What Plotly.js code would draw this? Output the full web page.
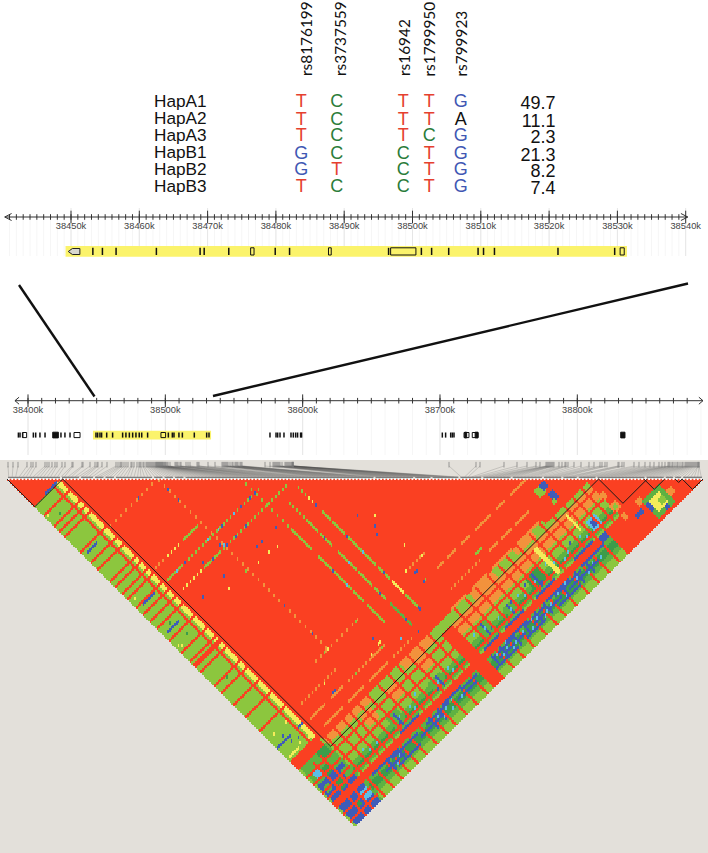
<!DOCTYPE html>
<html><head><meta charset="utf-8">
<script src="https://cdn.plot.ly/plotly-3.0.1.min.js"></script>
<style>html,body{margin:0;padding:0;background:#fff}</style></head>
<body><div id="chart" style="width:708px;height:853px"></div>
<script>
// ---------- haplotype table ----------
const snpNames=['rs8176199','rs3737559','rs16942','rs1799950','rs799923'];
const snpColumnX=[301.3,336.7,403.3,429.3,460.7];
const snpLabelX=[306,340,404,428.5,460];
const haplotypes=['HapA1','HapA2','HapA3','HapB1','HapB2','HapB3'];
const haplotypeAlleles=['TCTTG','TCTTA','TCTCG','GCCTG','GTCTG','TCCTG'];
const haplotypeFreq=['49.7','11.1','2.3','21.3','8.2','7.4'];
const rowY=[102.8,120.1,136.8,154.1,170.8,187.5];
const freqY=[104.8,122.2,138.8,156.5,172.2,189.8];
const alleleColors={T:'#e5402f',C:'#2b7c3a',G:'#3f57b3',A:'#111111'};

// ---------- genome tracks (kb) ----------
const topTicks=[38450,38460,38470,38480,38490,38500,38510,38520,38530,38540];
const lowTicks=[38400,38500,38600,38700,38800];
const topGene=[38449.2,38531.4];
const topExons=[38453.2,38454.6,38456.6,38462.5,38468.9,38469.5,38473.1,38479.9,38482.0,38496.5,38501.3,38502.8,38505.3,38509.6,38510.4,38512.0,38521.3,38529.6];
const topBoxes=[[38476.3,38476.8],[38487.7,38488.1],[38496.8,38500.5],[38530.4,38531.0]];
const topNose=[38449.6,38451.3];
const lowGene=[38447.3,38533.3];
const lowExons=[38393,38394.2,38396.1,38403.9,38405.6,38408.7,38412.4,38424,38426.9,38430.6,38449.5,38450.7,38452.4,38453.6,38457.3,38461.6,38468.9,38471.3,38473.8,38476.2,38478.6,38481,38482.8,38487.1,38502.2,38505.1,38506.3,38509.9,38512.4,38521.1,38530.1,38531.8,38576.2,38580.6,38581.8,38583.5,38586.4,38591.5,38593.2,38594.9,38596.3,38598.5,38599.2,38701.7,38704.1,38707.8,38709,38710.2];
const lowBoxes=[[38396.1,38399],[38433.5,38437.9],[38496.8,38500.2],[38717.5,38721.1],[38723.5,38727.7]];
const lowSolid=[[38418,38422.1],[38718,38719.4],[38725.6,38727.7],[38831.6,38834.7]];

// ---------- LD plot ----------
const snpCount=200;
const ldColors=['#fa4022','#f2923c','#f4ec5a','#8cc63e','#5fb142','#3c9c4a','#3f5cb8','#5cbfe6'];
const RED=0,ORANGE=1,YELLOW=2,LIGHT=3,MID=4,DARK=5,BLUE=6,SKY=7;
const ldBlocks=[[0,15],[16,169],[170,183],[183,188],[192,193],[194,199]];
const topBreaks=[15.5,21,25,28,31,42,45,48,51,105.6,117,122,130,136.6,145,154,159.6,164,169.4,183.5,189,191.7,194];
const rulerPx=[8,13,18,27,31,33,36,45,47,49,52,55,57,62,65,72,
73,82,83,90,95,97,98,102,107,116,118,120,121,122,124,126,128,131,132,134,
137,139,140,141,143,144,146,147,148,149,150,151,152,153,154,155,156,156,157,157,
158,158,159,159,160,160,161,161,162,162,163,163,164,165,165,166,167,168,170,175,
176,177,178,180,181,186,188,190,197,198,199,208,215,222,223,224,225,226,227,228,
230,232,233,235,236,237,238,240,241,242,265,270,273,274,275,276,277,278,279,280,
282,285,286,287,288,289,290,291,292,292,293,293,293,293,
449,476,480,504,517,527,536,540,546,547,548,549,550,551,552,553,554,559,562,565,
566,568,574,581,589,594,600,602,605,607,618,619,622,624,634,639,645,650,654,659,
662,665,668,669,670,672,673,675,677,678,680,682,683,685,686,687,688,689,690,691,
692,693,694,695,696,697,698,698,699,699];

// rectangles [iFrom,iTo,jFrom,jTo,class]
const ldRegions=[
 [0,15,16,199,LIGHT],[13,14,16,164,YELLOW],[15,15,16,164,RED],[11,11,16,165,RED],
 [0,15,168,199,MID],[0,0,168,199,LIGHT],[1,14,178,186,BLUE],[1,14,190,199,BLUE],[3,5,172,175,SKY],[10,14,168,172,DARK],[7,10,174,177,DARK],[7,9,182,185,DARK],[12,14,180,184,MID],[11,14,192,195,SKY],[6,8,193,195,DARK],[2,4,180,182,MID],
 [16,165,166,169,LIGHT],[16,165,170,175,ORANGE],[16,60,170,176,LIGHT],[33,38,170,175,ORANGE],[48,52,170,176,ORANGE],[60,80,170,176,LIGHT],[64,70,170,175,ORANGE],[16,165,176,180,LIGHT],[16,165,181,185,MID],[16,165,183,183,DARK],[16,165,186,186,LIGHT],[16,165,190,191,MID],[16,165,192,195,MID],[16,165,192,194,DARK],[16,165,196,199,LIGHT],[16,165,196,196,MID],
 [60,75,166,169,ORANGE],[100,112,166,169,ORANGE],[125,135,166,168,ORANGE],[16,40,166,168,ORANGE],[142,165,166,167,RED],
 [40,45,178,184,MID],[62,68,180,185,MID],[92,97,178,183,MID],[105,110,180,184,MID],[120,126,178,184,DARK],
 [148,151,155,158,LIGHT],[151,153,155,157,BLUE],[151,153,160,163,BLUE],[150,151,163,164,LIGHT],
 [154,158,179,184,SKY],[155,157,180,182,BLUE],
 [165,167,175,177,ORANGE],[165,168,181,184,ORANGE],[166,167,182,183,LIGHT],[174,176,187,189,ORANGE],[165,167,187,189,ORANGE],[186,188,193,195,ORANGE],
 [176,185,189,198,MID],[178,183,191,196,YELLOW],[181,183,193,195,LIGHT],[170,177,191,192,BLUE],[168,175,194,197,LIGHT],[170,172,195,196,YELLOW]
];
// red lines along one SNP: left band
const redLinesLeft=[21,27,30,33,42,48,52,59,62,66,69,74,78,82,86,93,100,105,107,108,111,119,123,130,137,145,163,164,165,166,167];
// red lines along one SNP: lower right band
const redLinesRight=[17,22,27,31,36,41,47,53,58,64,70,76,91,97,103,110,116,121,127,134,140,146,152,157,162];
const redThickRight=[80,81,82,83,84,85];
const redLinesBottom=[172,177,184,187,188,189];
const redLinesCorner=[172,176,181,184,193,197];
const redCrossCorner=[6,10];
// painted after the red lines: rectangles [iFrom,iTo,jFrom,jTo,class]
const ldTopRegions=[
 [131,132,172,185,YELLOW],[150,150,171,179,YELLOW],[158,175,190,199,RED],[153,156,187,189,BLUE],[0,15,187,189,RED],[170,173,191,192,BLUE],[176,177,191,194,BLUE],[181,182,197,198,BLUE]
];
// segments along fixed j: [j,iFrom,iTo,step,class]
const segmentsJ=[
 [43,16,40,3,ORANGE],
 [68,17,22,2,ORANGE],[68,24,30,2,YELLOW],[68,33,41,1,LIGHT],
 [75,17,25,1,LIGHT],[75,27,70,2,LIGHT],
 [82,19,30,2,YELLOW],[82,31,40,1,LIGHT],[82,42,78,2,LIGHT],
 [141,36,60,3,ORANGE],[141,90,98,2,ORANGE],
 [149,20,30,2,ORANGE],[149,33,40,2,ORANGE],[149,98,101,1,ORANGE],[149,104,108,1,ORANGE],[149,112,116,1,ORANGE],[149,120,128,1,ORANGE],[149,132,136,1,ORANGE],[149,140,148,1,ORANGE],
 [156,18,26,1,ORANGE],[156,30,36,1,ORANGE],[156,40,50,2,ORANGE],[156,52,60,1,ORANGE],[156,113,116,1,LIGHT],
 [159,118,122,1,ORANGE],[159,125,130,1,ORANGE],[159,133,140,1,ORANGE],[159,96,112,2,ORANGE],
 [162,20,30,1,ORANGE],[162,34,42,1,ORANGE],[162,46,56,1,ORANGE],[162,60,70,2,ORANGE],
 [165,90,98,1,ORANGE],[165,102,110,1,ORANGE],[165,114,124,1,ORANGE],[165,128,140,1,ORANGE],
 [186,88,96,1,BLUE],[186,100,110,1,BLUE],[186,118,128,1,BLUE],[186,140,150,1,BLUE],[186,40,50,1,BLUE],
 [190,20,34,1,BLUE],[190,60,70,1,BLUE],[190,96,108,1,BLUE],[190,120,132,1,BLUE],[190,140,152,1,BLUE],
 [191,30,44,1,BLUE],[191,50,62,1,BLUE],[191,70,78,1,BLUE],[191,88,100,1,BLUE],[191,106,118,1,BLUE],[191,124,138,1,BLUE],
 [193,25,35,1,BLUE],[193,45,56,1,BLUE],[193,66,76,1,BLUE],[193,90,104,1,BLUE],[193,110,125,1,BLUE],[193,130,146,1,BLUE],
 [195,30,42,1,BLUE],[195,86,98,1,BLUE],[195,104,114,1,BLUE],[195,122,134,1,BLUE],
 [15,7,13,1,BLUE],[44,2,7,1,BLUE],[75,3,9,1,BLUE],[90,2,8,1,BLUE],[155,0,7,1,BLUE],[155,12,14,1,BLUE],[161,1,6,1,YELLOW],[161,12,14,1,YELLOW]
];
// segments along fixed i: [i,jFrom,jTo,step,class]
const segmentsI=[
 [43,44,140,3,ORANGE],
 [67,70,95,3,LIGHT],[67,96,107,1,LIGHT],[67,112,130,1,LIGHT],[67,132,137,1,LIGHT],[67,140,149,1,LIGHT],
 [74,88,96,2,LIGHT],[74,98,104,1,LIGHT],[74,106,112,1,LIGHT],[74,116,126,1,LIGHT],[74,128,135,1,LIGHT],[74,137,143,1,LIGHT],[74,146,158,1,MID],
 [81,86,92,2,LIGHT],[81,92,96,2,YELLOW],[81,100,104,1,LIGHT],[81,106,112,1,LIGHT],[81,114,122,1,LIGHT],[81,124,130,1,LIGHT],[81,132,138,1,LIGHT],[81,140,146,1,YELLOW],[81,148,154,1,LIGHT],
 [28,190,195,1,BLUE],[34,190,195,1,BLUE],[52,190,195,1,BLUE],[57,190,195,1,BLUE],[88,190,195,1,BLUE],[93,190,195,1,BLUE],[100,190,195,1,BLUE],[106,190,195,1,BLUE],[113,190,195,1,BLUE],[118,190,195,1,BLUE],[128,190,195,1,BLUE],[136,190,195,1,BLUE],[142,190,195,1,BLUE],
 [43,179,184,1,BLUE],[66,180,185,1,BLUE],[94,178,183,1,BLUE],[107,180,184,1,BLUE],[123,178,184,1,BLUE]
];
// single pairs [i,j,class]
const ldPoints=[
 [32,43,BLUE],[43,49,BLUE],[43,55,BLUE],[32,80,BLUE],[34,90,BLUE],[22,90,BLUE],[32,95,YELLOW],[42,80,BLUE],[43,81,SKY],
 [55,91,BLUE],[52,91,BLUE],[63,91,BLUE],[54,96,YELLOW],[48,96,YELLOW],[58,97,YELLOW],[42,95,LIGHT],[43,116,BLUE],[43,132,BLUE],[43,141,YELLOW],[41,141,LIGHT],
 [90,111,BLUE],[95,116,YELLOW],[92,119,BLUE],[90,122,BLUE],[95,133,YELLOW],[88,141,YELLOW],[90,144,BLUE],[91,144,BLUE],[90,149,BLUE],[91,149,LIGHT],[97,141,YELLOW],
 [74,155,BLUE],[74,162,BLUE],[59,151,BLUE],[59,154,YELLOW],[60,154,YELLOW],[67,159,SKY],[59,141,LIGHT],[54,155,YELLOW],[32,150,YELLOW],[32,155,BLUE],[33,155,BLUE],[44,156,LIGHT],[59,156,LIGHT],
 [22,75,SKY],[27,75,BLUE],[40,75,SKY],[46,75,SKY],[48,75,BLUE],[55,75,SKY],[59,75,BLUE],[64,75,BLUE],[67,75,BLUE],
 [36,82,BLUE],[44,82,BLUE],[49,82,BLUE],[55,82,BLUE],[67,120,BLUE],[67,128,SKY],[74,108,BLUE],[74,122,SKY],[74,140,BLUE],[81,96,BLUE],[81,114,BLUE],[81,123,SKY],[81,135,BLUE],[81,155,BLUE],[81,156,BLUE],
 [1,22,YELLOW],[2,71,YELLOW],[2,98,YELLOW],[1,97,YELLOW],[5,88,DARK],[7,96,DARK],[5,25,DARK],[6,120,DARK],
 [4,155,BLUE],[5,153,BLUE],[6,157,BLUE],[9,158,BLUE],[10,150,YELLOW],[3,150,YELLOW],[8,160,YELLOW],
 [30,182,SKY],[44,181,SKY],[42,183,BLUE],[65,182,SKY],[63,184,BLUE],[94,180,SKY],[96,182,BLUE],[107,182,SKY],[109,180,BLUE],[122,181,SKY],[124,183,BLUE],[118,179,BLUE],[140,182,SKY],[143,180,BLUE],
 [95,192,SKY],[97,194,SKY],[99,193,SKY],[112,192,SKY],[115,194,SKY],[120,192,SKY],[60,192,SKY],[62,194,SKY],[135,192,SKY],[140,194,SKY],[30,194,SKY],[33,192,SKY],
 [24,180,SKY],[26,182,SKY],[50,181,SKY],[51,183,SKY],[55,179,SKY],[72,181,SKY],[73,183,SKY],[89,179,SKY],[101,181,SKY],[113,180,SKY],[115,182,SKY],[130,179,SKY],[133,181,SKY],[137,183,SKY],[148,181,SKY],[150,183,SKY],
 [90,191,SKY],[92,193,SKY],[96,190,SKY],[104,192,SKY],[108,194,SKY],[110,191,SKY],[117,193,SKY],[125,191,SKY],[127,194,SKY],[130,190,SKY],[144,192,SKY],[148,193,SKY],[55,192,SKY],[57,194,SKY],[64,191,SKY],[68,193,SKY]
];

// ---------- connectors (pixel layout) ----------
const connectorA={x:[19,94.5],y:[285,396.5]};
const connectorB={x:[213,688],y:[396,283.5]};

// ---------- matrix ----------
const M=[];for(let i=0;i<snpCount;i++)M.push(new Array(snpCount).fill(RED));
function paint(a,b,c,d,v){for(let i=a;i<=b;i++)for(let j=Math.max(c,i);j<=d;j++)M[i][j]=v;}
ldRegions.forEach(r=>paint(...r));
redLinesLeft.forEach(j=>paint(0,14,j,j,RED));
redLinesRight.forEach(i=>paint(i,i,166,199,RED));
redThickRight.forEach(i=>paint(i,i,170,199,RED));
redLinesBottom.forEach(j=>paint(16,165,j,j,RED));
redLinesCorner.forEach(j=>paint(0,15,j,j,RED));
redCrossCorner.forEach(i=>paint(i,i,170,199,RED));
segmentsJ.forEach(([j,a,b,st,v])=>{for(let i=a;i<=b;i+=st)paint(i,i,j,j,v);});
segmentsI.forEach(([i,a,b,st,v])=>{for(let j=a;j<=b;j+=st)paint(i,i,j,j,v);});
ldTopRegions.forEach(r=>paint(...r));
ldPoints.forEach(([i,j,v])=>paint(i,i,j,j,v));

const sVals=[],dVals=[],zGrid=[];
for(let s=0;s<2*snpCount;s++)sVals.push(s+0.5);
for(let d=0;d<snpCount;d++){
  dVals.push(d+0.5);
  const row=[];
  for(let s=0;s<2*snpCount;s++){
    const u=(s-d)/2,v=(s+d+1)/2;
    if(u<0||v>snpCount)row.push(null);
    else row.push(M[Math.floor(u)][Math.min(Math.floor(v),snpCount-1)]);
  }
  zGrid.push(row);
}
const scale=[];ldColors.forEach((c,k)=>{scale.push([k/ldColors.length,c],[(k+1)/ldColors.length,c]);});

// ---------- helpers ----------
const gx=1.74,gy=1.735,x0=7,y0=479;
const cross=(xs,a,b)=>{const X=[],Y=[];xs.forEach(x=>{X.push(x,x,null);Y.push(a,b,null);});return{x:X,y:Y};};
const range=(a,b,st)=>{const o=[];for(let v=a;v<=b+1e-6;v+=st)o.push(v);return o;};
const boxes=(l,a,b)=>{const X=[],Y=[];l.forEach(([p,q])=>{X.push(p,q,q,p,p,null);Y.push(a,a,b,b,a,null);});return{x:X,y:Y};};
const L=(o)=>Object.assign({type:'scatter',mode:'lines',hoverinfo:'skip',showlegend:false},o);
const traces=[];

function track(ax,ticks,minorStep,axisY,ends,chev,gridTop,gridBot,minorSize,majorSize,gene,geneTop,geneBot,exons,boxList,solid){
  const mins=range(ticks[0]-Math.floor((ticks[0]-ends[0])/minorStep)*minorStep,ends[1],minorStep);
  const g2=cross(mins,axisY+3,gridBot);
  traces.push(L(Object.assign(g2,{xaxis:ax,yaxis:'y',line:{color:'#f6f6f6',width:1}})));
  const g=cross(ticks,gridTop,gridBot);
  traces.push(L(Object.assign(g,{xaxis:ax,yaxis:'y',line:{color:'#e6e6e6',width:1}})));
  traces.push(L({xaxis:ax,yaxis:'y',x:[gene[0],gene[1],gene[1],gene[0],gene[0]],y:[geneTop,geneTop,geneBot,geneBot,geneTop],fill:'toself',fillcolor:'#fbf36b',line:{width:0,color:'#fbf36b'}}));
  traces.push(L({xaxis:ax,yaxis:'y',x:[ends[0],ends[1]],y:[axisY,axisY],line:{color:'#333',width:1}}));
  traces.push(L({xaxis:ax,yaxis:'y',x:[ends[0]+chev,ends[0],ends[0]+chev],y:[axisY-3.5,axisY,axisY+3.5],line:{color:'#333',width:1}}));
  traces.push(L({xaxis:ax,yaxis:'y',x:[ends[1]-chev,ends[1],ends[1]-chev],y:[axisY-3.5,axisY,axisY+3.5],line:{color:'#333',width:1}}));
  const mv=mins.filter(v=>v>ends[0]+chev/2&&v<ends[1]-chev/2);
  traces.push(L({xaxis:ax,yaxis:'y',x:mv,y:mv.map(()=>axisY),mode:'markers',marker:{symbol:'line-ns',size:minorSize,line:{width:1,color:'#333'}}}));
  const tv=ticks.filter(v=>v<ends[1]);
  traces.push(L({xaxis:ax,yaxis:'y',x:tv,y:tv.map(()=>axisY),mode:'markers',marker:{symbol:'line-ns',size:majorSize,line:{width:1,color:'#333'}}}));
  const e=cross(exons,geneTop+1.8,geneBot-1.8);
  traces.push(L(Object.assign(e,{xaxis:ax,yaxis:'y',line:{color:'#111',width:1.5}})));
  const b=boxes(boxList,geneTop+1.8,geneBot-1.8);
  traces.push(L(Object.assign(b,{xaxis:ax,yaxis:'y',line:{color:'#111',width:1}})));
  if(solid){const c=boxes(solid,geneTop+1.5,geneBot-1.5);traces.push(L(Object.assign(c,{xaxis:ax,yaxis:'y',fill:'toself',fillcolor:'#111',line:{color:'#111',width:1}})));}
}
track('x',topTicks,1,217,[38440.3,38540.3],1,208,256,4,9,topGene,246,256.8,topExons,topBoxes,null);
traces.push(L({xaxis:'x',yaxis:'y',x:[topNose[1],topNose[1],topNose[0]+0.6,topNose[0],topNose[0]+0.6,topNose[1]],y:[248.5,254.5,254.5,251.5,248.5,248.5],fill:'toself',fillcolor:'#d8d8cf',line:{color:'#222',width:1}}));
track('x2',lowTicks,10,400.7,[38390.5,38891.5],3,396,455,4,9,lowGene,430.7,439.4,lowExons,lowBoxes,lowSolid);

// LD heatmap
traces.push({type:'heatmap',xaxis:'x3',yaxis:'y3',x:sVals,y:dVals,z:zGrid,zmin:-0.5,zmax:ldColors.length-0.5,colorscale:scale,showscale:false,hoverinfo:'skip',zsmooth:false});

// fan of connectors
for(let g=0;g<5;g++){
  const X=[],Y=[];
  rulerPx.forEach((p,k)=>{if(k%5===g){X.push((p-x0)/gx,2*k+1,null);Y.push((466-y0)/gy,-1.2,null);}});
  traces.push(L({xaxis:'x3',yaxis:'y3',x:X,y:Y,line:{color:'rgba(70,70,70,0.34)',width:0.6}}));
}
// ruler ticks
traces.push(L({xaxis:'x4',yaxis:'y',x:rulerPx,y:rulerPx.map(()=>464.7),mode:'markers',marker:{symbol:'line-ns',size:4,line:{width:0.7,color:'#777'}}}));
// grey top bar with breaks
{const stops=[0].concat(topBreaks,[snpCount]);const X=[],Y=[];
 for(let k=0;k<stops.length-1;k++){X.push(2*stops[k]+0.6,2*stops[k+1]-0.6,null);Y.push(-0.9,-0.9,null);}
 traces.push(L({xaxis:'x3',yaxis:'y3',x:X,y:Y,line:{color:'#7d7d7d',width:1.6}}));}
// white SNP dots
{const X=[];for(let k=0;k<snpCount;k++)X.push(2*k+1);
 traces.push(L({xaxis:'x3',yaxis:'y3',x:X,y:X.map(()=>0.1),mode:'markers',marker:{symbol:'square',size:1.8,color:'#ffffff'}}));}
// black block outlines
{const X=[],Y=[];ldBlocks.forEach(([a,b])=>{X.push(2*a,a+b+1,2*b+2,null);Y.push(0,b+1-a,0,null);});
 traces.push(L({xaxis:'x3',yaxis:'y3',x:X,y:Y,line:{color:'#1a1a1a',width:1}}));}

// connectors
traces.push(L({xaxis:'x4',yaxis:'y',x:connectorA.x,y:connectorA.y,line:{color:'#111',width:2.4}}));
traces.push(L({xaxis:'x4',yaxis:'y',x:connectorB.x,y:connectorB.y,line:{color:'#111',width:2.4}}));

// haplotype labels / alleles / frequencies
traces.push({type:'scatter',mode:'text',xaxis:'x4',yaxis:'y',x:haplotypes.map(()=>154),y:rowY,text:haplotypes,textposition:'middle right',textfont:{family:'Liberation Sans',size:17.2,color:'#111'},hoverinfo:'skip',showlegend:false});
traces.push({type:'scatter',mode:'text',xaxis:'x4',yaxis:'y',x:haplotypes.map(()=>555.5),y:freqY,text:haplotypeFreq,textposition:'middle left',textfont:{family:'Liberation Sans',size:18,color:'#111'},hoverinfo:'skip',showlegend:false});
{const X=[],Y=[],T=[],C=[];
 haplotypeAlleles.forEach((row,r)=>{row.split('').forEach((a,c)=>{X.push(snpColumnX[c]);Y.push(rowY[r]);T.push(a);C.push(alleleColors[a]);});});
 traces.push({type:'scatter',mode:'text',xaxis:'x4',yaxis:'y',x:X,y:Y,text:T,textposition:'middle center',textfont:{family:'Liberation Sans',size:18,color:C},hoverinfo:'skip',showlegend:false});}

const hidden={visible:false,fixedrange:true};
const labelFont={family:'Liberation Sans',size:9.3,color:'#444'};
const layout={
 width:708,height:853,margin:{l:0,r:0,t:0,b:0},autosize:false,showlegend:false,
 paper_bgcolor:'#ffffff',plot_bgcolor:'rgba(0,0,0,0)',
 xaxis:{domain:[0,1],range:[38450-71/6.83,38450+(708-71)/6.83],anchor:'free',position:1-219/853,side:'bottom',showgrid:false,zeroline:false,showline:false,ticks:'',tickmode:'array',tickvals:topTicks,ticktext:topTicks.map(v=>v+'k'),tickfont:labelFont},
 xaxis2:{domain:[0,1],range:[38400-28/1.3733,38400+(708-28)/1.3733],anchor:'free',position:1-403/853,side:'bottom',showgrid:false,zeroline:false,showline:false,ticks:'',tickmode:'array',tickvals:lowTicks,ticktext:lowTicks.map(v=>v+'k'),tickfont:labelFont},
 xaxis3:Object.assign({domain:[0,1],range:[-x0/gx,(708-x0)/gx],anchor:'y3'},hidden),
 xaxis4:Object.assign({domain:[0,1],range:[0,708],anchor:'y'},hidden),
 yaxis:Object.assign({domain:[0,1],range:[853,0],anchor:'x4'},hidden),
 yaxis3:Object.assign({domain:[0,1],range:[(853-y0)/gy,-y0/gy],anchor:'x3'},hidden),
 shapes:[{type:'rect',xref:'paper',yref:'paper',x0:0,x1:1,y0:0,y1:1-460/853,layer:'below',line:{width:0},fillcolor:'#e3e0da'}],
 annotations:snpNames.map((n,k)=>({xref:'x4',yref:'y',x:snpLabelX[k],y:78.5,text:n,textangle:-90,showarrow:false,xanchor:'center',yanchor:'bottom',font:{family:'Lato',size:15.4,color:'#111'}}))
};
Plotly.newPlot('chart',traces,layout,{staticPlot:true,displayModeBar:false});
</script></body></html>
